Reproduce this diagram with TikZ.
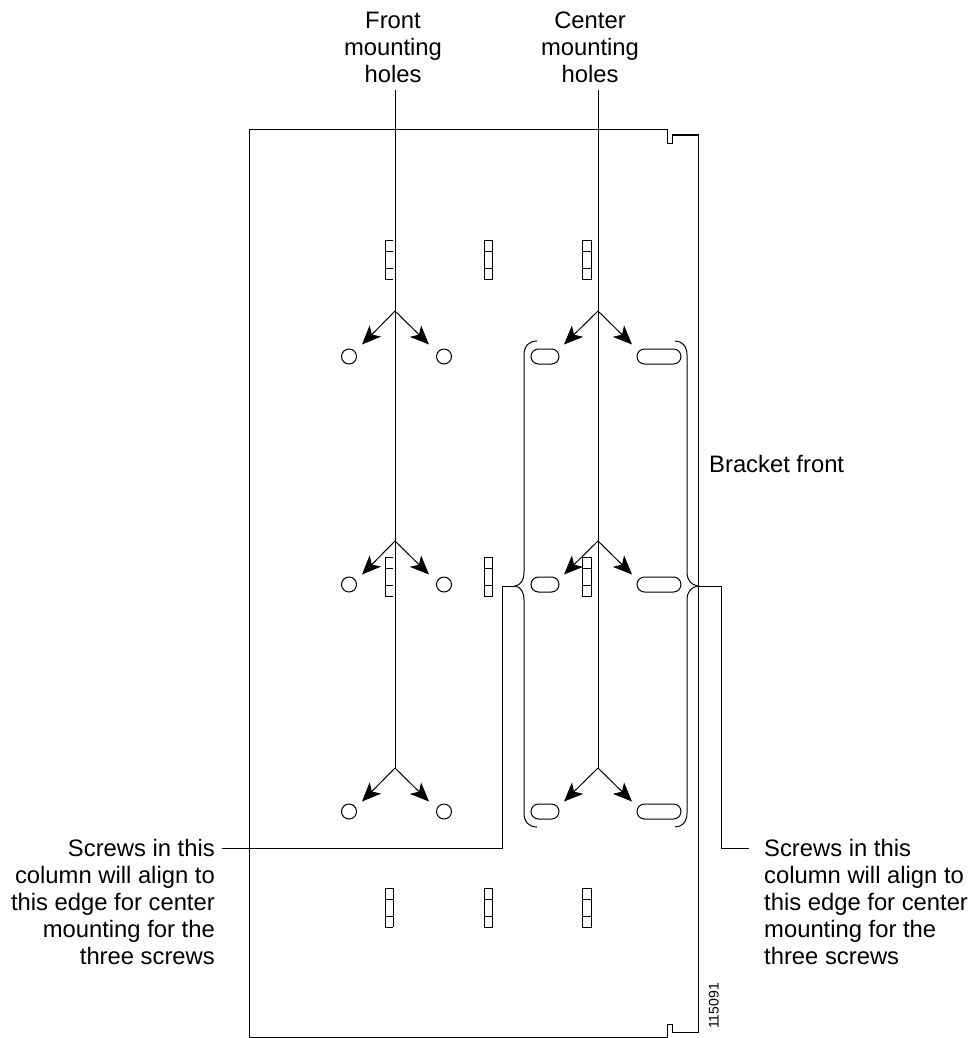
\documentclass[tikz,border=0pt]{standalone}
\usepackage{fontspec}
\setmainfont{Liberation Sans}
\usetikzlibrary{arrows.meta,shapes.misc}
\tikzset{
	part/.style={line width=1pt,line join=miter},
	leader/.style={line width=1pt},
	pointer/.style={line width=1pt,-{Stealth[length=19pt,width=16pt,inset=5pt]}},
	hole/.style={draw,circle,line width=1pt,inner sep=0pt,minimum size=15pt},
	slot/.style={draw,rounded rectangle,line width=1pt,inner sep=0pt,minimum height=15pt},
	label/.style={inner sep=0pt,font=\fontsize{23.8}{27}\selectfont}
}
\begin{document}
\begin{tikzpicture}[x=1pt,y=-1pt]
	\useasboundingbox (0,0) rectangle (974,1038);
	\draw[part] (249,130) -- (667,130) -- (667,143) -- (672,143) -- (672,135) --
		(698,135) -- (698,1032) -- (672,1032) -- (672,1024) -- (667,1024) --
		(667,1037) -- (249,1037) -- cycle;
	\foreach \y in {240,557,888} {
		\draw[part] (484,\y) rectangle (492,\y+39);
		\draw[part] (582,\y) rectangle (591,\y+39);
		\draw[part] (484,\y+11) -- (492,\y+11) (484,\y+28) -- (492,\y+28);
		\draw[part] (582,\y+11) -- (591,\y+11) (582,\y+28) -- (591,\y+28);
		\draw[part] (393,\y) -- (385,\y) -- (385,\y+39) -- (393,\y+39);
		\draw[part] (385,\y+11) -- (393,\y+11) (385,\y+28) -- (393,\y+28);
	}
	\draw[part] (393,888) -- (393,927);
	\node[label,align=center,anchor=south] (frontlabel) at (393,82.5) {Front\\mounting\\holes};
	\node[label,align=center,anchor=south] (centerlabel) at (590,82.5) {Center\\mounting\\holes};
	\node[label,anchor=west] (bracketlabel) at (709,464) {Bracket front};
	\node[label,align=right,anchor=north east] (leftlabel) at (215,839)
		{Screws in this\\column will align to\\this edge for center\\mounting for the\\three screws};
	\node[label,align=left,anchor=north west] (rightlabel) at (764,839)
		{Screws in this\\column will align to\\this edge for center\\mounting for the\\three screws};
	\node[inner sep=0pt,font=\fontsize{14}{14}\selectfont,rotate=90,anchor=south west] (partnumber) at (719,1029) {115091};
	\foreach \r/\ya/\ys in {1/311/356.5,2/541/584.5,3/768/811.5} {
		\coordinate (fa\r) at (395,\ya);
		\coordinate (ca\r) at (598,\ya);
		\coordinate (fl\r) at (362,\ya+33.5);
		\coordinate (fr\r) at (429,\ya+33.5);
		\coordinate (cl\r) at (564,\ya+33.5);
		\coordinate (cr\r) at (632,\ya+33.5);
		\node[hole] (holel\r) at (349,\ys) {};
		\node[hole] (holer\r) at (444,\ys) {};
		\node[slot,minimum width=28pt] (slotl\r) at (545,\ys) {};
		\node[slot,minimum width=44pt] (slotr\r) at (659,\ys) {};
		\draw[pointer] (fa\r) -- (fl\r);
		\draw[pointer] (fa\r) -- (fr\r);
		\draw[pointer] (ca\r) -- (cl\r);
		\draw[pointer] (ca\r) -- (cr\r);
	}
	\coordinate (fronttop) at (395,90);
	\coordinate (centertop) at (598,90);
	\draw[leader] (fronttop) -- (fa3);
	\draw[leader] (centertop) -- (ca3);
	\coordinate (lnub) at (515,586);
	\coordinate (rnub) at (698,586);
	\coordinate (lend) at (222,848);
	\coordinate (rend) at (749,848);
	\draw[part] (537,341) .. controls (529,341) and (524,346) .. (524,355) -- (524,572)
		.. controls (524,580) and (521,585) .. (lnub)
		.. controls (521,587) and (524,592) .. (524,600) -- (524,813)
		.. controls (524,822) and (529,827) .. (537,827);
	\draw[part] (675,341) .. controls (682,341) and (687,346) .. (687,355) -- (687,572)
		.. controls (687,580) and (691,585) .. (rnub)
		.. controls (691,587) and (687,592) .. (687,600) -- (687,813)
		.. controls (687,822) and (682,827) .. (675,827);
	\draw[part] (lnub) -- (502,586) -- (502,848) -- (lend);
	\draw[part] (rnub) -- (721,586) -- (721,848) -- (rend);
\end{tikzpicture}
\end{document}
